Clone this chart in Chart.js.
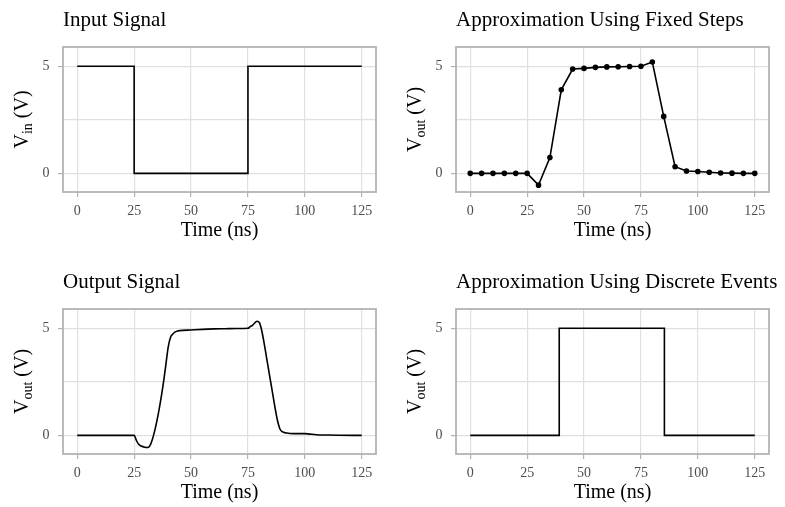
<!DOCTYPE html>
<html>
<head>
<meta charset="utf-8">
<script src="https://cdn.jsdelivr.net/npm/chart.js@4/dist/chart.umd.min.js"></script>
<style>
  html, body { margin: 0; padding: 0; background: #fff; overflow: hidden; }
  .panel { position: absolute; width: 392px; height: 253px; }
</style>
</head>
<body>
<div class="panel" style="left:0px;top:0px"><canvas id="cInput" width="392" height="253"></canvas></div>
<div class="panel" style="left:393px;top:0px"><canvas id="cFixed" width="392" height="253"></canvas></div>
<div class="panel" style="left:0px;top:262px"><canvas id="cOutput" width="392" height="253"></canvas></div>
<div class="panel" style="left:393px;top:262px"><canvas id="cEvents" width="392" height="253"></canvas></div>
<script>
// === DATOS ===
const titulos = ["Input Signal", "Approximation Using Fixed Steps", "Output Signal", "Approximation Using Discrete Events"];
const xTitulo = "Time (ns)";
const xTicks = [0, 25, 50, 75, 100, 125];
const yTicks = [0, 2.5, 5];

// input signal (step)
const inTime = [0, 25, 25, 75, 75, 125];
const inVolt = [5, 5, 0, 0, 5, 5];

// fixed steps, every 5 ns
const fixTime = [0, 5, 10, 15, 20, 25, 30, 35, 40, 45, 50, 55, 60, 65, 70, 75, 80, 85, 90, 95, 100, 105, 110, 115, 120, 125];
const fixVolt = [0, 0, 0, 0, 0, 0, -0.55, 0.74, 3.9, 4.87, 4.9, 4.95, 4.97, 4.98, 4.99, 5.0, 5.2, 2.66, 0.31, 0.11, 0.09, 0.05, 0.02, 0.01, 0, 0];

// output signal (smooth)
const outTime = [0, 25, 26, 27, 28, 30, 31, 32, 33, 34, 35, 36, 37, 38, 39, 40, 41, 42, 43, 44, 45, 50, 55, 60, 65, 70, 75, 76, 77, 78, 79, 80, 81, 82, 83, 84, 85, 86, 87, 88, 89, 90, 92, 95, 100, 102, 105, 110, 115, 125];
const outVolt = [0, 0, -0.24, -0.42, -0.5, -0.56, -0.57, -0.47, -0.19, 0.2, 0.68, 1.23, 1.86, 2.56, 3.35, 4.14, 4.58, 4.73, 4.83, 4.87, 4.89, 4.92, 4.95, 4.97, 4.98, 4.99, 5.0, 5.08, 5.14, 5.25, 5.33, 5.27, 4.92, 4.37, 3.74, 3.11, 2.48, 1.86, 1.23, 0.68, 0.31, 0.17, 0.11, 0.08, 0.08, 0.06, 0.03, 0.015, 0.005, 0];

// discrete events
const evTime = [0, 39.1, 39.1, 85.3, 85.3, 125];
const evVolt = [0, 0, 5, 5, 0, 0];

const fuente = "'Liberation Serif', 'DejaVu Serif', serif";
Chart.defaults.font.family = fuente;

function puntos(xs, ys) {
  return xs.map((x, i) => ({ x: x, y: ys[i] }));
}

// titles, y label with subscript, and panel border
const panelText = {
  id: "panelText",
  afterDraw(chart, args, opts) {
    const ctx = chart.ctx;
    const a = chart.chartArea;
    ctx.save();
    // border
    ctx.strokeStyle = "#b3b3b3";
    ctx.lineWidth = 1.8;
    ctx.strokeRect(a.left, a.top, a.right - a.left, a.bottom - a.top);
    // title
    ctx.fillStyle = "#000";
    ctx.textBaseline = "alphabetic";
    ctx.textAlign = "left";
    ctx.font = "21px " + fuente;
    ctx.fillText(opts.titulo, a.left, a.top - 21);
    // y label
    ctx.translate(28, (a.top + a.bottom) / 2);
    ctx.rotate(-Math.PI / 2);
    ctx.font = "20px " + fuente;
    const w1 = ctx.measureText("V").width;
    const w3 = ctx.measureText(" (V)").width;
    ctx.font = "14px " + fuente;
    const w2 = ctx.measureText(opts.sub).width;
    let x = -(w1 + w2 + w3) / 2;
    ctx.font = "20px " + fuente;
    ctx.fillText("V", x, 0);
    ctx.font = "14px " + fuente;
    ctx.fillText(opts.sub, x + w1, 4);
    ctx.font = "20px " + fuente;
    ctx.fillText(" (V)", x + w1 + w2, 0);
    ctx.restore();
  }
};

function crearPanel(id, titulo, sub, xs, ys, opciones) {
  const ctx = document.getElementById(id).getContext("2d");
  return new Chart(ctx, {
    type: "line",
    data: {
      datasets: [Object.assign({
        data: puntos(xs, ys),
        borderColor: "#000",
        backgroundColor: "#000",
        borderWidth: 1.6,
        pointRadius: 0,
        tension: 0,
        fill: false
      }, opciones)]
    },
    options: {
      responsive: false,
      animation: false,
      layout: { padding: { left: 0, right: 16, top: 47, bottom: 0 } },
      plugins: {
        legend: { display: false },
        tooltip: { enabled: false },
        panelText: { titulo: titulo, sub: sub }
      },
      scales: {
        x: {
          type: "linear",
          min: -6.25,
          max: 131.25,
          afterBuildTicks: (s) => { s.ticks = xTicks.map(v => ({ value: v })); },
          afterFit: (s) => { s.height = 61; },
          grid: { color: "#e0e0e0", lineWidth: 1.2, tickLength: 5, tickColor: "#b3b3b3", tickWidth: 1.2 },
          border: { display: false },
          ticks: { color: "#4d4d4d", font: { size: 14 }, padding: 5.5, maxRotation: 0 },
          title: { display: true, text: xTitulo, color: "#000", font: { size: 20 }, padding: { top: 0, bottom: 10 } }
        },
        y: {
          type: "linear",
          min: -0.87,
          max: 5.9,
          afterBuildTicks: (s) => { s.ticks = yTicks.map(v => ({ value: v })); },
          afterFit: (s) => { s.width = 63; },
          grid: {
            color: "#e0e0e0",
            lineWidth: 1.2,
            tickLength: 5,
            tickWidth: 1.2,
            tickColor: (c) => (c.tick && c.tick.value === 2.5 ? "rgba(0,0,0,0)" : "#b3b3b3")
          },
          border: { display: false },
          ticks: {
            color: "#4d4d4d",
            font: { size: 14 },
            padding: 8.5,
            callback: (v) => (v === 2.5 ? "" : String(v))
          }
        }
      }
    },
    plugins: [panelText]
  });
}

crearPanel("cInput", titulos[0], "in", inTime, inVolt, {});
crearPanel("cFixed", titulos[1], "out", fixTime, fixVolt, { pointRadius: 2 });
crearPanel("cOutput", titulos[2], "out", outTime, outVolt, { cubicInterpolationMode: "monotone" });
crearPanel("cEvents", titulos[3], "out", evTime, evVolt, {});
</script>
</body>
</html>
